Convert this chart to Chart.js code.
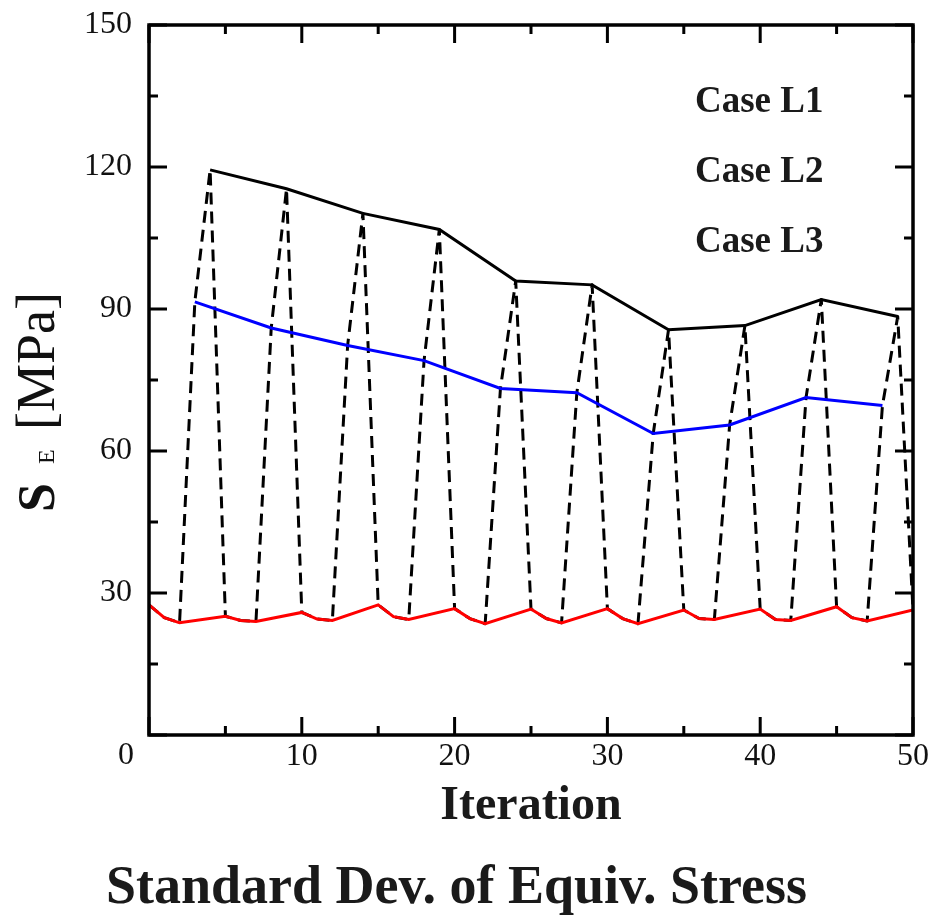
<!DOCTYPE html>
<html>
<head>
<meta charset="utf-8">
<script src="https://cdn.jsdelivr.net/npm/chart.js@4.4.1/dist/chart.umd.min.js"></script>
<style>
  html, body { margin: 0; padding: 0; background: #fff; }
  #wrap { width: 931px; height: 919px; }
</style>
</head>
<body>
<div id="wrap"><canvas id="c" width="931" height="919"></canvas></div>
<script>
// Case L1: iterations where the stress deviation peaks
const caseL1Iter = [4, 9, 14, 19, 24, 29, 34, 39, 44, 49];
const caseL1 = [119.4, 115.4, 110.2, 106.8, 95.9, 95.1, 85.6, 86.5, 92.0, 88.4];

// Case L2: the iteration just before each peak
const caseL2Iter = [3, 8, 13, 18, 23, 28, 33, 38, 43, 48];
const caseL2 = [91.5, 86.0, 82.3, 79.1, 73.2, 72.3, 63.7, 65.5, 71.3, 69.6];

// Case L3: the remaining (low) iterations
const caseL3Iter = [0, 1, 2, 5, 6, 7, 10, 11, 12, 15, 16, 17, 20, 21, 22, 25, 26, 27,
                    30, 31, 32, 35, 36, 37, 40, 41, 42, 45, 46, 47, 50];
const caseL3 = [27.5, 24.8, 23.7, 25.1, 24.2, 24.0, 25.9, 24.5, 24.2, 27.5, 25.0, 24.4,
                26.7, 24.6, 23.5, 26.6, 24.6, 23.7, 26.7, 24.6, 23.5, 26.4, 24.6, 24.4,
                26.6, 24.4, 24.2, 27.1, 24.8, 24.1, 26.4];

const xTicks = [0, 10, 20, 30, 40, 50];
const yTicks = [0, 30, 60, 90, 120, 150];
const legendLabels = ['Case L1', 'Case L2', 'Case L3'];

const SERIF = "'Liberation Serif', 'Times New Roman', serif";

function toPoints(xs, ys) {
  return xs.map((v, i) => ({ x: v, y: ys[i] }));
}

// full iteration history: every case merged in iteration order
const history = toPoints(caseL1Iter, caseL1)
  .concat(toPoints(caseL2Iter, caseL2))
  .concat(toPoints(caseL3Iter, caseL3))
  .sort((a, b) => a.x - b.x);

function midpoints(arr) {
  const out = [];
  for (let i = 0; i < arr.length - 1; i++) out.push((arr[i] + arr[i + 1]) / 2);
  return out;
}

// frame with inward ticks on all four sides, corner "0" label
const framePlugin = {
  id: 'frame',
  afterDatasetsDraw(chart) {
    const { ctx, chartArea: a, scales: { x, y } } = chart;
    const major = 18, minor = 9;
    ctx.save();
    ctx.strokeStyle = '#000';
    ctx.lineWidth = 3;
    ctx.lineCap = 'butt';
    ctx.beginPath();
    const xt = (v, len) => {
      const p = x.getPixelForValue(v);
      ctx.moveTo(p, a.bottom); ctx.lineTo(p, a.bottom - len);
      ctx.moveTo(p, a.top); ctx.lineTo(p, a.top + len);
    };
    const yt = (v, len) => {
      const p = y.getPixelForValue(v);
      ctx.moveTo(a.left, p); ctx.lineTo(a.left + len, p);
      ctx.moveTo(a.right, p); ctx.lineTo(a.right - len, p);
    };
    xTicks.forEach(v => xt(v, major));
    midpoints(xTicks).forEach(v => xt(v, minor));
    yTicks.forEach(v => yt(v, major));
    midpoints(yTicks).forEach(v => yt(v, minor));
    ctx.stroke();
    ctx.lineWidth = 3.5;
    ctx.strokeRect(a.left, a.top, a.right - a.left, a.bottom - a.top);
    ctx.restore();
  },
  afterDraw(chart) {
    const { ctx, chartArea: a, scales: { x } } = chart;
    ctx.save();
    ctx.fillStyle = '#111';
    ctx.font = '32px ' + SERIF;
    ctx.textAlign = 'center';
    ctx.textBaseline = 'middle';
    ctx.fillText('0', x.getPixelForValue(0) - 23, a.bottom + 21);
    ctx.restore();
  }
};

// y-axis title: bold S with small E, then the unit
const yTitlePlugin = {
  id: 'ytitle',
  afterDraw(chart) {
    const { ctx } = chart;
    ctx.save();
    ctx.translate(54, 512);
    ctx.rotate(-Math.PI / 2);
    ctx.fillStyle = '#111';
    ctx.textBaseline = 'alphabetic';
    ctx.textAlign = 'left';
    ctx.font = 'bold 52px ' + SERIF;
    ctx.fillText('S', 0, 0);
    ctx.font = '24px ' + SERIF;
    ctx.fillText('E', 48, 0);
    ctx.font = '54px ' + SERIF;
    ctx.fillText('[MPa]', 82, 0);
    ctx.restore();
  }
};

// case labels in the upper right of the plot
const caseLabelPlugin = {
  id: 'caseLabels',
  afterDraw(chart) {
    const { ctx, chartArea: a } = chart;
    ctx.save();
    ctx.fillStyle = '#1a1a1a';
    ctx.font = 'bold 37px ' + SERIF;
    ctx.textAlign = 'left';
    ctx.textBaseline = 'alphabetic';
    legendLabels.forEach((t, i) => {
      ctx.fillText(t, a.left + 546, a.top + 87 + i * 70);
    });
    ctx.restore();
  }
};

new Chart(document.getElementById('c'), {
  type: 'line',
  data: {
    datasets: [
      {
        label: 'Case L3',
        data: toPoints(caseL3Iter, caseL3),
        borderColor: '#ff0000',
        borderWidth: 3,
        pointRadius: 0,
        tension: 0,
        order: 0
      },
      {
        label: 'Case L2',
        data: toPoints(caseL2Iter, caseL2),
        borderColor: '#0000ff',
        borderWidth: 3,
        pointRadius: 0,
        tension: 0,
        order: 1
      },
      {
        label: 'Case L1',
        data: toPoints(caseL1Iter, caseL1),
        borderColor: '#000000',
        borderWidth: 3,
        pointRadius: 0,
        tension: 0,
        order: 2
      },
      {
        label: 'History',
        data: history,
        borderColor: '#000000',
        borderWidth: 3,
        borderDash: [12, 7],
        borderCapStyle: 'butt',
        borderJoinStyle: 'round',
        pointRadius: 0,
        tension: 0,
        order: 3
      }
    ]
  },
  options: {
    responsive: false,
    animation: false,
    devicePixelRatio: 1,
    layout: { padding: { top: 25, right: 18, left: 0, bottom: 0 } },
    plugins: {
      legend: { display: false },
      tooltip: { enabled: false },
      title: {
        display: true,
        position: 'bottom',
        text: 'Standard Dev. of Equiv. Stress',
        color: '#1a1a1a',
        font: { family: SERIF, weight: 'bold', size: 54, lineHeight: 1.1 },
        padding: 0
      }
    },
    scales: {
      x: {
        type: 'linear',
        min: 0,
        max: 50,
        grid: { display: false, drawTicks: false },
        border: { display: false },
        afterBuildTicks: s => { s.ticks = xTicks.map(v => ({ value: v })); },
        ticks: {
          color: '#111',
          font: { family: SERIF, size: 32 },
          padding: 2,
          maxRotation: 0,
          autoSkip: false,
          callback: v => (v === 0 ? '' : String(v))
        },
        title: {
          display: true,
          text: 'Iteration',
          color: '#1a1a1a',
          font: { family: SERIF, weight: 'bold', size: 48, lineHeight: 1.2 },
          padding: { top: 0, bottom: 24 }
        },
        afterFit: s => {
          s.height = 124.6;
          s.paddingLeft = 0;
          s.paddingRight = 0;
        }
      },
      y: {
        type: 'linear',
        min: 0,
        max: 150,
        grid: { display: false, drawTicks: false },
        border: { display: false },
        afterBuildTicks: s => { s.ticks = yTicks.map(v => ({ value: v })); },
        ticks: {
          color: '#111',
          font: { family: SERIF, size: 32 },
          padding: 17,
          autoSkip: false,
          callback: v => (v === 0 ? '' : String(v))
        },
        afterFit: s => {
          s.width = 149;
          s.paddingTop = 0;
          s.paddingBottom = 0;
        }
      }
    }
  },
  plugins: [framePlugin, yTitlePlugin, caseLabelPlugin]
});
</script>
</body>
</html>
